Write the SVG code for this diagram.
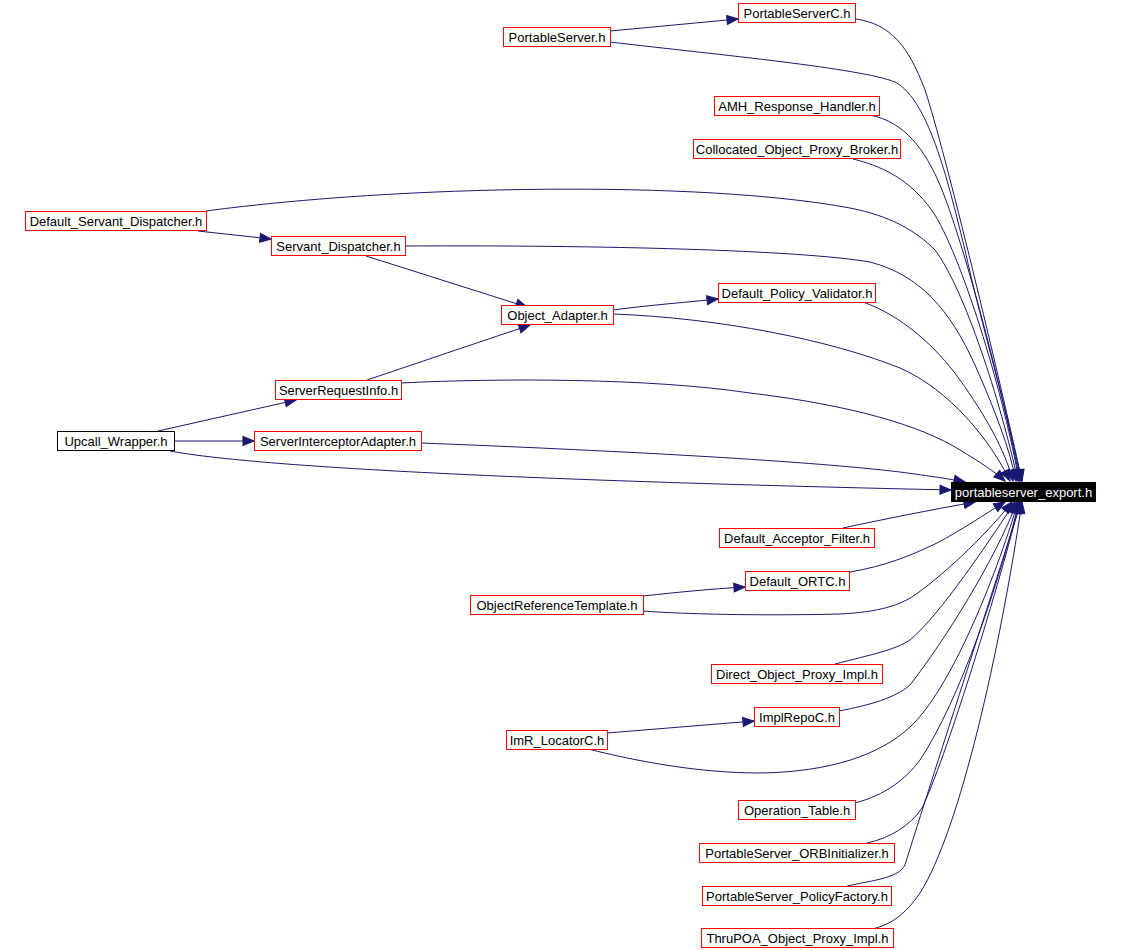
<svg xmlns="http://www.w3.org/2000/svg" width="1121" height="950" viewBox="0 0 1121 950">
<style>
.n rect{fill:#fff;stroke:#ff0000;stroke-width:1}
.n.b rect{stroke:#000}
.n.root rect{fill:#000;stroke:#000}
.n text{font-family:"Liberation Sans",Arial,sans-serif;font-size:13px;text-anchor:middle;fill:#000}
.n.root text{fill:#fff}
.e path{fill:none;stroke:#191970;stroke-width:1;marker-end:url(#arr)}
</style>
<defs>
<marker id="arr" markerUnits="userSpaceOnUse" markerWidth="11" markerHeight="9" refX="10" refY="4" orient="auto" viewBox="0 0 10 8" overflow="visible">
<path d="M0,0 L10,4 L0,8 z" fill="#191970" stroke="#191970" stroke-width="1"/>
</marker>
</defs>
<rect width="1121" height="950" fill="#fff"/>
<g id="edges" class="e">
<path d="M610,31 L738,19"/>
<path d="M856,19 C890,24 908,45 925,90 C945,150 1000,380 1022,481"/>
<path d="M610,42 C720,55 860,68 895,82 C930,100 950,190 965,250 C980,320 1010,420 1021,481"/>
<path d="M870,115 C905,122 925,150 940,185 C965,245 1005,400 1020,481"/>
<path d="M853,159 C890,168 915,185 935,215 C965,265 1005,400 1019,481"/>
<path d="M206,211 C400,185 700,180 850,208 C890,216 915,230 935,250 C965,290 1000,400 1018,481"/>
<path d="M198,231 L271,239"/>
<path d="M405,246 C600,245 800,250 870,262 C920,275 950,310 975,365 C995,410 1010,450 1016,481"/>
<path d="M366,256 L527,307"/>
<path d="M613,310 C650,305 690,302 718,299"/>
<path d="M613,314 C720,318 830,340 900,368 C950,390 990,440 1010,481"/>
<path d="M863,302 C900,315 935,345 960,380 C985,415 1005,450 1013,481"/>
<path d="M367,380 L530,325"/>
<path d="M401,383 C500,378 650,378 750,393 C850,405 920,425 960,450 C980,462 995,472 1005,481"/>
<path d="M158,431 L296,400"/>
<path d="M174,441 L254,441"/>
<path d="M421,443 C600,450 800,460 900,472 C930,476 950,479 965,482"/>
<path d="M170,451 C250,466 500,480 951,490"/>
<path d="M843,528 C880,520 930,510 975,502"/>
<path d="M850,572 C885,566 910,556 937,543 C960,531 985,514 1005,502"/>
<path d="M643,596 C680,592 710,589 745,587"/>
<path d="M643,611 C680,614 760,616 840,614 C880,612 900,605 915,595 C950,570 990,530 1012,502"/>
<path d="M835,664 C870,655 895,650 910,640 C940,615 990,540 1015,502"/>
<path d="M607,733 L754,721"/>
<path d="M839,711 C870,705 895,698 910,685 C945,640 995,560 1017,502"/>
<path d="M588,749 C640,762 700,773 760,773 C830,772 880,755 910,727 C950,690 995,580 1018,502"/>
<path d="M855,803 C885,795 905,780 920,760 C960,700 1000,580 1019,502"/>
<path d="M867,843 C890,838 910,826 922,808 C945,760 995,600 1020,502"/>
<path d="M847,886 C875,880 898,878 905,865 C925,800 990,600 1021,502"/>
<path d="M872,929 C890,925 905,915 920,893 C960,830 1000,650 1022,502"/>
</g>
<g id="n_psc" class="n"><rect x="738.5" y="3.5" width="117" height="19"/><text x="797" y="18">PortableServerC.h</text></g>
<g id="n_ps" class="n"><rect x="503.5" y="27.5" width="107" height="19"/><text x="557" y="42">PortableServer.h</text></g>
<g id="n_amh" class="n"><rect x="714.5" y="96.5" width="165" height="19"/><text x="797" y="111">AMH_Response_Handler.h</text></g>
<g id="n_col" class="n"><rect x="693.5" y="139.5" width="207" height="19"/><text x="797" y="154">Collocated_Object_Proxy_Broker.h</text></g>
<g id="n_dsd" class="n"><rect x="25.5" y="211.5" width="181" height="19"/><text x="116" y="226">Default_Servant_Dispatcher.h</text></g>
<g id="n_sd" class="n"><rect x="271.5" y="236.5" width="134" height="19"/><text x="338.5" y="251">Servant_Dispatcher.h</text></g>
<g id="n_oa" class="n"><rect x="501.5" y="305.5" width="112" height="19"/><text x="557.5" y="320">Object_Adapter.h</text></g>
<g id="n_dpv" class="n"><rect x="718.5" y="283.5" width="157" height="19"/><text x="797" y="298">Default_Policy_Validator.h</text></g>
<g id="n_sri" class="n"><rect x="275.5" y="380.5" width="126" height="19"/><text x="338.5" y="395">ServerRequestInfo.h</text></g>
<g id="n_uw" class="n b"><rect x="57.5" y="431.5" width="117" height="19"/><text x="116" y="446">Upcall_Wrapper.h</text></g>
<g id="n_sia" class="n"><rect x="254.5" y="431.5" width="167" height="19"/><text x="338" y="446">ServerInterceptorAdapter.h</text></g>
<g id="n_pse" class="n root"><rect x="951.5" y="482.5" width="144" height="19"/><text x="1023.5" y="497">portableserver_export.h</text></g>
<g id="n_daf" class="n"><rect x="719.5" y="528.5" width="155" height="19"/><text x="797" y="543">Default_Acceptor_Filter.h</text></g>
<g id="n_ortc" class="n"><rect x="745.5" y="571.5" width="104" height="19"/><text x="797.5" y="586">Default_ORTC.h</text></g>
<g id="n_ort" class="n"><rect x="470.5" y="595.5" width="173" height="19"/><text x="557" y="610">ObjectReferenceTemplate.h</text></g>
<g id="n_dopi" class="n"><rect x="711.5" y="664.5" width="171" height="19"/><text x="797" y="679">Direct_Object_Proxy_Impl.h</text></g>
<g id="n_irc" class="n"><rect x="754.5" y="707.5" width="85" height="19"/><text x="797" y="722">ImplRepoC.h</text></g>
<g id="n_imr" class="n"><rect x="506.5" y="730.5" width="101" height="19"/><text x="557" y="745">ImR_LocatorC.h</text></g>
<g id="n_ot" class="n"><rect x="738.5" y="800.5" width="117" height="19"/><text x="797" y="815">Operation_Table.h</text></g>
<g id="n_orbi" class="n"><rect x="699.5" y="843.5" width="195" height="19"/><text x="797" y="858">PortableServer_ORBInitializer.h</text></g>
<g id="n_pf" class="n"><rect x="702.5" y="886.5" width="189" height="19"/><text x="797" y="901">PortableServer_PolicyFactory.h</text></g>
<g id="n_thru" class="n"><rect x="701.5" y="928.5" width="192" height="19"/><text x="797.5" y="943">ThruPOA_Object_Proxy_Impl.h</text></g>
</svg>
